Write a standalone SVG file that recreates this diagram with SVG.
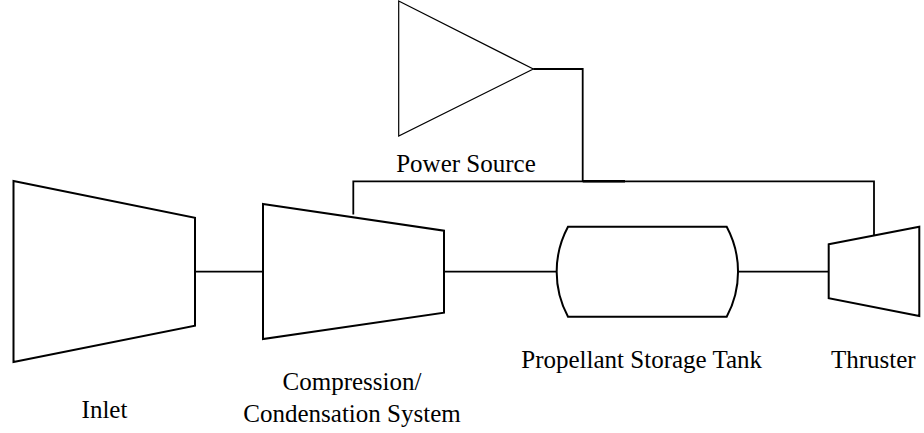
<svg xmlns="http://www.w3.org/2000/svg" width="924" height="433" viewBox="0 0 924 433">
<style>
.shape{fill:#fff;stroke:#000;stroke-width:2;stroke-linejoin:miter}
.thin{fill:#fff;stroke:#000;stroke-width:1.2}
.wire{fill:none;stroke:#000;stroke-width:1.8}
.lbl{font-family:"Times New Roman","Liberation Serif",Tinos,"DejaVu Serif",serif;font-size:25px;fill:#000;text-anchor:middle}
</style>
<rect width="924" height="433" fill="#fff"/>
<g id="connectors">
<line class="wire" x1="195" y1="271.7" x2="263" y2="271.7"/>
<line class="wire" x1="444" y1="271.7" x2="557" y2="271.7"/>
<line class="wire" x1="738" y1="271.7" x2="829" y2="271.7"/>
<polyline class="wire" points="533.3,69 582.7,69 582.7,181.3"/>
<polyline class="wire" points="353.3,214.5 353.3,181.3 874,181.3 874,235"/>
<line x1="582.7" y1="181.3" x2="625" y2="181.3" stroke="#000" stroke-width="2.6"/>
</g>
<g id="power-source">
<polygon class="thin" points="398.7,1 533.3,69 398.7,136"/>
<text class="lbl" x="466" y="171.5">Power Source</text>
</g>
<g id="inlet">
<polygon class="shape" points="13.5,181 195,217.7 195,325.7 13.5,362"/>
<text class="lbl" x="104.5" y="418">Inlet</text>
</g>
<g id="compression">
<polygon class="shape" points="263,204 444,230.7 444,312.7 263,339"/>
<text class="lbl" x="352" y="390">Compression/</text>
<text class="lbl" x="352" y="422">Condensation System</text>
</g>
<g id="tank">
<path class="shape" d="M568,226.7 L726.7,226.7 A95 95 0 0 1 726.7,316.7 L568,316.7 A95 95 0 0 1 568,226.7 Z"/>
<text class="lbl" x="641.7" y="367.7">Propellant Storage Tank</text>
</g>
<g id="thruster">
<polygon class="shape" points="828.7,244.3 919.3,226.7 919.3,316 828.7,298.3"/>
<text class="lbl" x="873.3" y="368">Thruster</text>
</g>
</svg>
